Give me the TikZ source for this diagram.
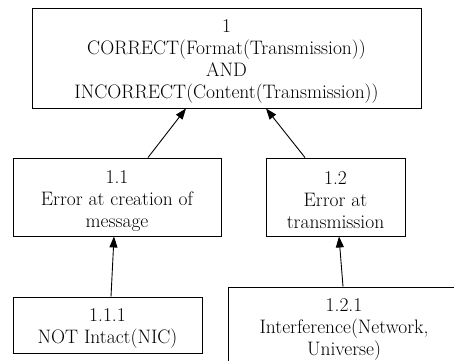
\documentclass[tikz,border=0pt]{standalone}
\usetikzlibrary{arrows.meta}
\newcommand\toppad{\rule{0pt}{20pt}}
\begin{document}
\begin{tikzpicture}[x=1pt,y=-1pt,
  box/.style={draw=black, line width=0.9pt, rectangle, align=center, inner sep=0pt,
    font=\rmfamily\fontsize{19.5}{22}\selectfont, text=black},
  edge/.style={line width=0.9pt, -{Triangle[length=11pt,width=8pt]}}]
\useasboundingbox (0,0) rectangle (454,360);
\clip (0,0) rectangle (454,360);
\node[box, minimum width=389pt, minimum height=100pt] (n1) at (226.5,58)
  {\toppad 1\\CORRECT(Format(Transmission))\\AND\\INCORRECT(Content(Transmission))};
\node[box, minimum width=208pt, minimum height=78pt] (n11) at (117,197)
  {\toppad 1.1\\Error at creation of\\message};
\node[box, minimum width=139pt, minimum height=78pt] (n12) at (335.5,197)
  {\toppad 1.2\\Error at\\transmission};
\node[box, minimum width=189pt, minimum height=56pt] (n111) at (107.5,325)
  {\toppad 1.1.1\\NOT Intact(NIC)};
\node[box, minimum width=232pt, minimum height=78pt] (n121) at (344,326)
  {\toppad 1.2.1\\Interference(Network,\\Universe)};
\draw[edge] ([xshift=31pt]n11.north) -- ([xshift=-40.5pt]n1.south);
\draw[edge] ([xshift=-30.5pt]n12.north) -- ([xshift=39.5pt]n1.south);
\draw[edge] ([xshift=3.5pt]n111.north) -- ([xshift=-3pt]n11.south);
\draw[edge] ([xshift=-1pt]n121.north) -- ([xshift=3.5pt]n12.south);
\end{tikzpicture}
\end{document}
